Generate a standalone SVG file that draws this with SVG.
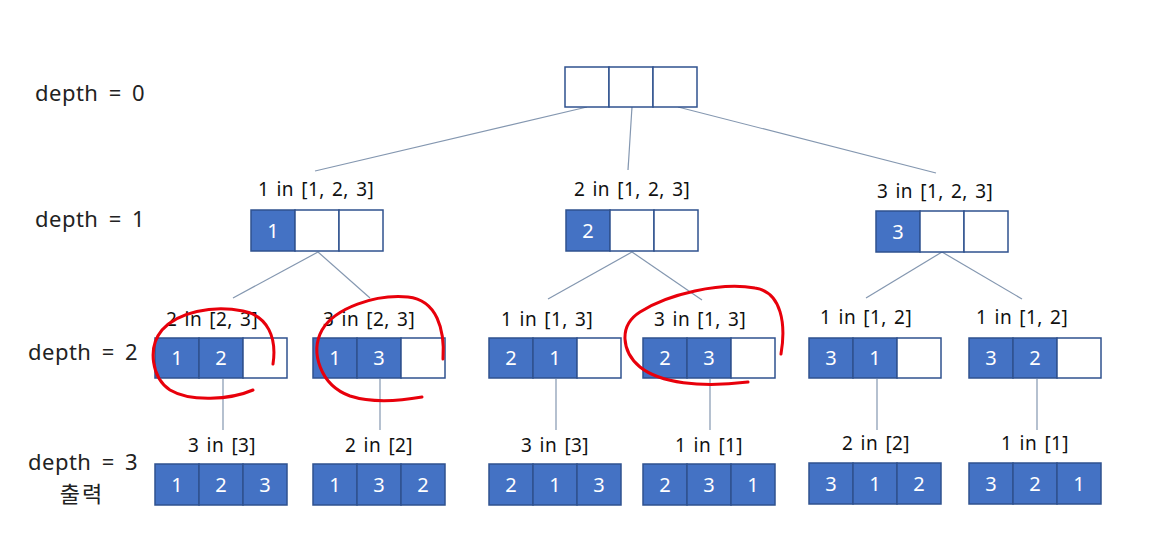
<svg xmlns="http://www.w3.org/2000/svg" width="1158" height="535" viewBox="0 0 1158 535">
<style>
.cell{fill:#fff;stroke:#2F528F;stroke-width:1.5}
.f{fill:#4472C4;stroke:#2F528F;stroke-width:1.5}
.n{font-family:"Noto Sans","Noto Sans CJK KR",sans-serif;font-size:20px;fill:#fff;text-anchor:middle}
.lbl{font-family:"Noto Sans","Noto Sans CJK KR",sans-serif;font-size:19px;fill:#111;text-anchor:middle;word-spacing:2px;letter-spacing:0.4px}
.dep{font-family:"Noto Sans","Noto Sans CJK KR",sans-serif;font-size:22px;fill:#222;text-anchor:middle;word-spacing:4px;letter-spacing:0.5px}
.ln{stroke:#8497B0;stroke-width:1.2;fill:none}
.red{stroke:#E8000B;stroke-width:3;fill:none;stroke-linecap:round;stroke-linejoin:round}
</style>
<rect width="1158" height="535" fill="#fff"/>
<g id="depth-labels">
<text class="dep" x="90" y="101">depth = 0</text>
<text class="dep" x="90" y="227">depth = 1</text>
<text class="dep" x="83" y="360">depth = 2</text>
<text class="dep" x="83" y="470">depth = 3</text>
<text class="dep" x="82" y="502" style="font-size:22px;letter-spacing:2px">출력</text>
</g>
<g id="connectors">
<line class="ln" x1="587" y1="107" x2="315" y2="171"/>
<line class="ln" x1="632" y1="107" x2="628" y2="170"/>
<line class="ln" x1="678" y1="107" x2="936" y2="173"/>
<line class="ln" x1="318" y1="252" x2="233" y2="298"/>
<line class="ln" x1="318" y1="252" x2="370" y2="298"/>
<line class="ln" x1="632" y1="252" x2="548" y2="299"/>
<line class="ln" x1="632" y1="252" x2="702" y2="300"/>
<line class="ln" x1="942" y1="252" x2="866" y2="298"/>
<line class="ln" x1="942" y1="252" x2="1022" y2="299"/>
<line class="ln" x1="223" y1="379" x2="223" y2="430"/>
<line class="ln" x1="380" y1="379" x2="380" y2="430"/>
<line class="ln" x1="556" y1="379" x2="556" y2="430"/>
<line class="ln" x1="710" y1="379" x2="710" y2="430"/>
<line class="ln" x1="877" y1="379" x2="877" y2="430"/>
<line class="ln" x1="1037" y1="379" x2="1037" y2="430"/>
</g>
<g id="root">
<rect class="cell" x="565" y="67" width="44" height="40"/>
<rect class="cell" x="609" y="67" width="44" height="40"/>
<rect class="cell" x="653" y="67" width="44" height="40"/>
</g>
<g id="d1-1">
<text class="lbl" x="316" y="196">1 in [1, 2, 3]</text>
<rect class="f" x="251" y="210" width="44" height="41"/>
<rect class="cell" x="295" y="210" width="44" height="41"/>
<rect class="cell" x="339" y="210" width="44" height="41"/>
<text class="n" x="273" y="238">1</text>
</g>
<g id="d1-2">
<text class="lbl" x="632" y="196">2 in [1, 2, 3]</text>
<rect class="f" x="566" y="210" width="44" height="41"/>
<rect class="cell" x="610" y="210" width="44" height="41"/>
<rect class="cell" x="654" y="210" width="44" height="41"/>
<text class="n" x="588" y="238">2</text>
</g>
<g id="d1-3">
<text class="lbl" x="935" y="198">3 in [1, 2, 3]</text>
<rect class="f" x="876" y="211" width="44" height="41"/>
<rect class="cell" x="920" y="211" width="44" height="41"/>
<rect class="cell" x="964" y="211" width="44" height="41"/>
<text class="n" x="898" y="239">3</text>
</g>
<g id="d2-1">
<text class="lbl" x="212" y="326">2 in [2, 3]</text>
<rect class="f" x="155" y="338" width="44" height="40"/>
<rect class="f" x="199" y="338" width="44" height="40"/>
<rect class="cell" x="243" y="338" width="44" height="40"/>
<text class="n" x="177" y="365">1</text><text class="n" x="221" y="365">2</text>
</g>
<g id="d2-2">
<text class="lbl" x="369" y="326">3 in [2, 3]</text>
<rect class="f" x="313" y="338" width="44" height="40"/>
<rect class="f" x="357" y="338" width="44" height="40"/>
<rect class="cell" x="401" y="338" width="44" height="40"/>
<text class="n" x="335" y="365">1</text><text class="n" x="379" y="365">3</text>
</g>
<g id="d2-3">
<text class="lbl" x="547" y="326">1 in [1, 3]</text>
<rect class="f" x="489" y="338" width="44" height="40"/>
<rect class="f" x="533" y="338" width="44" height="40"/>
<rect class="cell" x="577" y="338" width="44" height="40"/>
<text class="n" x="511" y="365">2</text><text class="n" x="555" y="365">1</text>
</g>
<g id="d2-4">
<text class="lbl" x="700" y="326">3 in [1, 3]</text>
<rect class="f" x="643" y="338" width="44" height="40"/>
<rect class="f" x="687" y="338" width="44" height="40"/>
<rect class="cell" x="731" y="338" width="44" height="40"/>
<text class="n" x="665" y="365">2</text><text class="n" x="709" y="365">3</text>
</g>
<g id="d2-5">
<text class="lbl" x="866" y="324">1 in [1, 2]</text>
<rect class="f" x="809" y="338" width="44" height="40"/>
<rect class="f" x="853" y="338" width="44" height="40"/>
<rect class="cell" x="897" y="338" width="44" height="40"/>
<text class="n" x="831" y="365">3</text><text class="n" x="875" y="365">1</text>
</g>
<g id="d2-6">
<text class="lbl" x="1022" y="324">1 in [1, 2]</text>
<rect class="f" x="969" y="338" width="44" height="40"/>
<rect class="f" x="1013" y="338" width="44" height="40"/>
<rect class="cell" x="1057" y="338" width="44" height="40"/>
<text class="n" x="991" y="365">3</text><text class="n" x="1035" y="365">2</text>
</g>
<g id="d3-1">
<text class="lbl" x="222" y="452">3 in [3]</text>
<rect class="f" x="155" y="464" width="44" height="41"/>
<rect class="f" x="199" y="464" width="44" height="41"/>
<rect class="f" x="243" y="464" width="44" height="41"/>
<text class="n" x="177" y="492">1</text><text class="n" x="221" y="492">2</text><text class="n" x="265" y="492">3</text>
</g>
<g id="d3-2">
<text class="lbl" x="379" y="452">2 in [2]</text>
<rect class="f" x="313" y="464" width="44" height="41"/>
<rect class="f" x="357" y="464" width="44" height="41"/>
<rect class="f" x="401" y="464" width="44" height="41"/>
<text class="n" x="335" y="492">1</text><text class="n" x="379" y="492">3</text><text class="n" x="423" y="492">2</text>
</g>
<g id="d3-3">
<text class="lbl" x="555" y="452">3 in [3]</text>
<rect class="f" x="489" y="464" width="44" height="41"/>
<rect class="f" x="533" y="464" width="44" height="41"/>
<rect class="f" x="577" y="464" width="44" height="41"/>
<text class="n" x="511" y="492">2</text><text class="n" x="555" y="492">1</text><text class="n" x="599" y="492">3</text>
</g>
<g id="d3-4">
<text class="lbl" x="709" y="452">1 in [1]</text>
<rect class="f" x="643" y="464" width="44" height="41"/>
<rect class="f" x="687" y="464" width="44" height="41"/>
<rect class="f" x="731" y="464" width="44" height="41"/>
<text class="n" x="665" y="492">2</text><text class="n" x="709" y="492">3</text><text class="n" x="753" y="492">1</text>
</g>
<g id="d3-5">
<text class="lbl" x="876" y="450">2 in [2]</text>
<rect class="f" x="809" y="463" width="44" height="41"/>
<rect class="f" x="853" y="463" width="44" height="41"/>
<rect class="f" x="897" y="463" width="44" height="41"/>
<text class="n" x="831" y="491">3</text><text class="n" x="875" y="491">1</text><text class="n" x="919" y="491">2</text>
</g>
<g id="d3-6">
<text class="lbl" x="1035" y="450">1 in [1]</text>
<rect class="f" x="969" y="463" width="44" height="41"/>
<rect class="f" x="1013" y="463" width="44" height="41"/>
<rect class="f" x="1057" y="463" width="44" height="41"/>
<text class="n" x="991" y="491">3</text><text class="n" x="1035" y="491">2</text><text class="n" x="1079" y="491">1</text>
</g>
<g id="red-marks">
<path class="red" d="M273,364 C277,338 268,316 243,311 C212,305 178,312 162,330 C147,348 152,378 170,390 C190,402 230,400 253,390"/>
<path class="red" d="M443,359 C445,330 437,300 408,297 C375,294 335,308 322,330 C310,352 320,385 350,396 C375,404 405,400 422,397"/>
<path class="red" d="M781,354 C786,325 782,292 755,288 C720,282 668,294 640,312 C618,326 622,352 640,367 C660,383 700,388 748,382"/>
</g>
</svg>
